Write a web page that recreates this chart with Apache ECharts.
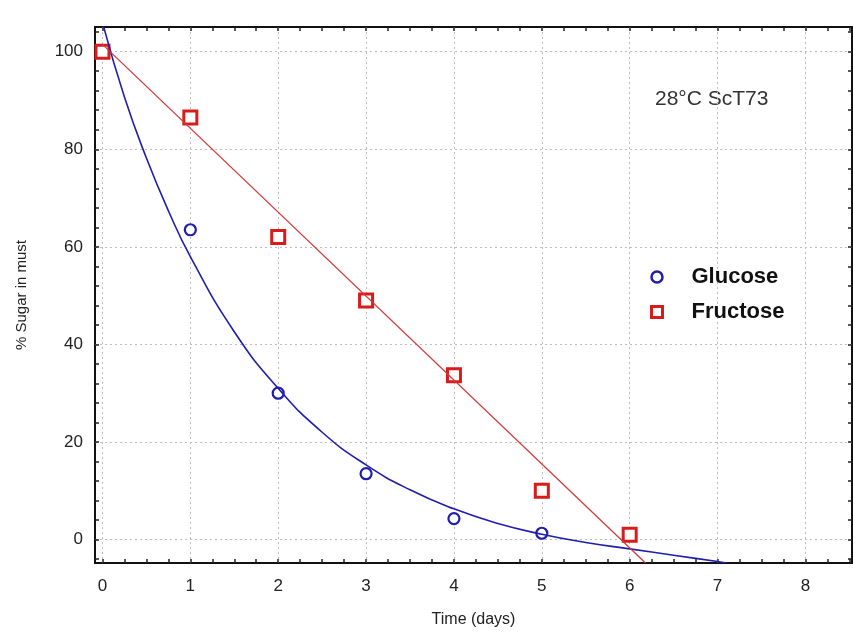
<!DOCTYPE html>
<html>
<head>
<meta charset="utf-8">
<script src="https://cdn.jsdelivr.net/npm/echarts@6/dist/echarts.min.js"></script>
<style>
  html, body { margin: 0; padding: 0; background: #fff; }
  #main { width: 853px; height: 634px; }
</style>
</head>
<body>
<div id="main"></div>
<script>
// measured points
var days = [0, 1, 2, 3, 4, 5, 6];
var glucose = [100, 63.5, 30, 13.5, 4.3, 1.3, 0.8];
var fructose = [100, 86.5, 62, 49, 33.7, 10, 1];

// fitted curves
var glucoseFitX = [0, 0.25, 0.5, 0.75, 1, 1.5, 2, 2.5, 3, 3.5, 4, 4.5, 5, 5.5, 6, 6.5, 7, 7.1];
var glucoseFitY = [106, 90.7, 78.2, 67.4, 58, 42.6, 31, 22, 15.3, 10.2, 6.3, 3.3, 1.1, -0.6, -1.9, -3.2, -4.5, -4.8];
var fructoseFitX = [0, 6.18];
var fructoseFitY = [101.5, -4.8];

// tick labels
var xLabels = [0, 1, 2, 3, 4, 5, 6, 7, 8];
var yLabels = [0, 20, 40, 60, 80, 100];
var xMinorTicks = [0, 0.25, 0.5, 0.75, 1, 1.25, 1.5, 1.75, 2, 2.25, 2.5, 2.75, 3, 3.25, 3.5, 3.75, 4,
    4.25, 4.5, 4.75, 5, 5.25, 5.5, 5.75, 6, 6.25, 6.5, 6.75, 7, 7.25, 7.5, 7.75, 8, 8.25, 8.5];
var yMinorTicks = [-4, 0, 4, 8, 12, 16, 20, 24, 28, 32, 36, 40, 44, 48, 52, 56, 60, 64, 68, 72, 76, 80,
    84, 88, 92, 96, 100, 104];

var X_MIN = -0.085, X_MAX = 8.53, Y_MIN = -4.8, Y_MAX = 105.06;
var blue = '#1e1eb0', red = '#d81c1c';
var font = 'Arial, "Liberation Sans", sans-serif';

function pairs(xs, ys) {
    return xs.map(function (x, i) { return [x, ys[i]]; });
}

var gridLine = { show: true, lineStyle: { color: '#bdbdbd', type: [2, 3], width: 1 } };
var tickStyle = { color: '#222', width: 1.5 };
function xTicks(pos) {
    return {
        type: 'value', position: pos, min: X_MIN, max: X_MAX,
        axisLine: { show: false, onZero: false },
        axisTick: { show: true, inside: true, length: 4, customValues: xMinorTicks, lineStyle: tickStyle },
        axisLabel: { show: false },
        splitLine: { show: false }
    };
}
function yTicks(pos) {
    return {
        type: 'value', position: pos, min: Y_MIN, max: Y_MAX,
        axisLine: { show: false, onZero: false },
        axisTick: { show: true, inside: true, length: 4, customValues: yMinorTicks, lineStyle: tickStyle },
        axisLabel: { show: false },
        splitLine: { show: false }
    };
}

var myChart = echarts.init(document.getElementById('main'));
var option = {
    backgroundColor: '#fff',
    animation: false,
    grid: { left: 95, right: 1, top: 27, bottom: 71, show: true, borderColor: '#111', borderWidth: 2, backgroundColor: 'transparent' },
    xAxis: [
        {
            type: 'value', position: 'bottom', min: X_MIN, max: X_MAX,
            name: 'Time (days)', nameLocation: 'middle', nameGap: 49,
            nameTextStyle: { fontFamily: font, fontSize: 16, color: '#222' },
            axisLine: { show: false, onZero: false },
            axisTick: { show: false, customValues: xLabels },
            axisLabel: { customValues: xLabels, fontFamily: font, fontSize: 17, color: '#222', margin: 15 },
            splitLine: gridLine
        },
        xTicks('bottom'),
        xTicks('top')
    ],
    yAxis: [
        {
            type: 'value', position: 'left', min: Y_MIN, max: Y_MAX,
            name: '% Sugar in must', nameLocation: 'middle', nameGap: 66, nameRotate: 90,
            nameTextStyle: { fontFamily: font, fontSize: 15, color: '#222' },
            axisLine: { show: false, onZero: false },
            axisTick: { show: false, customValues: yLabels },
            axisLabel: { customValues: yLabels, fontFamily: font, fontSize: 17, color: '#222', margin: 12 },
            splitLine: gridLine
        },
        yTicks('left'),
        yTicks('right')
    ],
    legend: {
        data: [
            { name: 'Glucose', itemStyle: { color: '#fff', borderColor: blue, borderWidth: 2.5 } },
            { name: 'Fructose', itemStyle: { color: '#fff', borderColor: red, borderWidth: 3 } }
        ],
        orient: 'vertical', left: 645, top: 261,
        itemWidth: 11, itemHeight: 11, itemGap: 13,
        textStyle: { fontFamily: font, fontSize: 22, fontWeight: 'bold', color: '#111', padding: [0, 0, 0, 24] }
    },
    graphic: [
        { type: 'text', left: 655, top: 89, style: { text: '28°C ScT73', font: '21px ' + font, fill: '#333' } }
    ],
    series: [
        {
            name: 'Glucose fit', type: 'line', data: pairs(glucoseFitX, glucoseFitY),
            smooth: true, showSymbol: false, clip: true,
            lineStyle: { color: blue, width: 1.6 }
        },
        {
            name: 'Fructose fit', type: 'line', data: pairs(fructoseFitX, fructoseFitY),
            showSymbol: false, clip: true,
            lineStyle: { color: '#d43a3a', width: 1.3 }
        },
        {
            name: 'Glucose', type: 'scatter', data: pairs(days, glucose),
            symbol: 'circle', symbolSize: 11,
            itemStyle: { color: '#fff', borderColor: blue, borderWidth: 2.2, opacity: 1 }
        },
        {
            name: 'Fructose', type: 'scatter', data: pairs(days, fructose),
            symbol: 'rect', symbolSize: 13,
            itemStyle: { color: '#fff', borderColor: red, borderWidth: 3, opacity: 1 }
        }
    ]
};
myChart.setOption(option);
</script>
</body>
</html>
